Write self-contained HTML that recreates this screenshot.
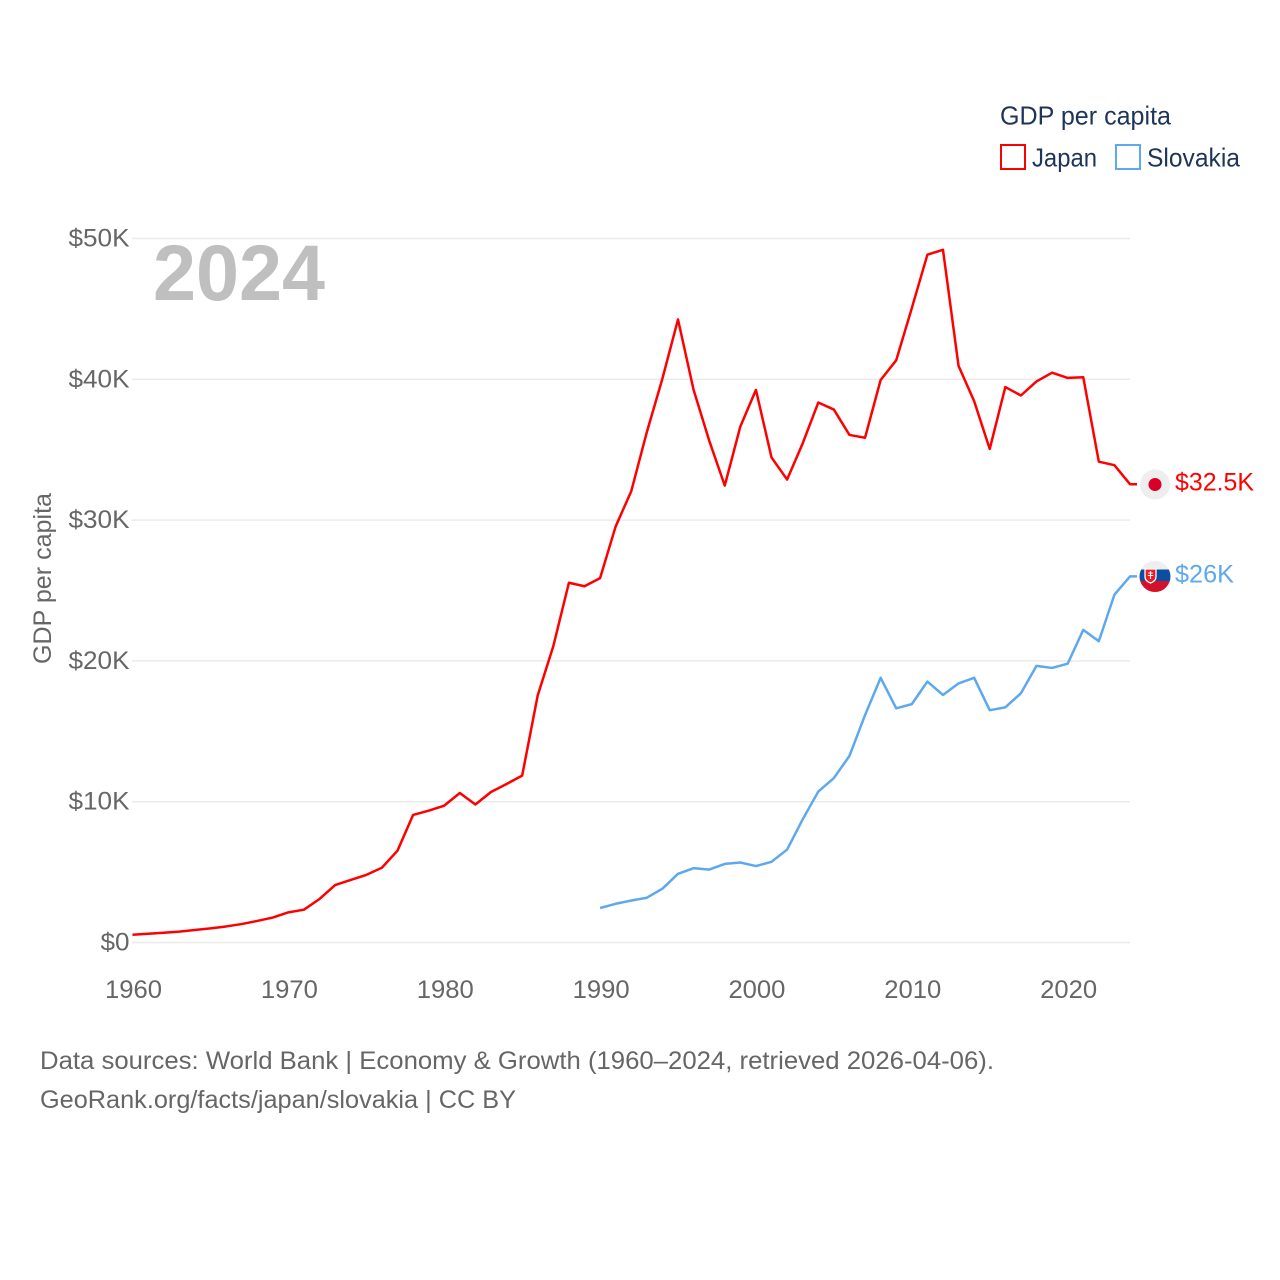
<!DOCTYPE html>
<html lang="en">
<head>
<meta charset="utf-8">
<title>GDP per capita: Japan and Slovakia</title>
<style>
html,body{margin:0;padding:0;background:#fff;width:1280px;height:1280px;overflow:hidden}
svg{display:block}
text{font-family:"Liberation Sans",sans-serif}
</style>
</head>
<body>
<svg id="chart" width="1280" height="1280" viewBox="0 0 1280 1280" xmlns="http://www.w3.org/2000/svg">
<defs>
<clipPath id="slovakia-clip"><circle cx="1155" cy="576.5" r="15.5"/></clipPath>
</defs>
<g id="grid"></g>
<g id="yticks"></g>
<g id="xticks"></g>
<text x="153" y="300" font-size="79" font-weight="700" fill="#bfbfbf" textLength="172" lengthAdjust="spacingAndGlyphs">2024</text>
<text transform="translate(51 578.5) rotate(-90)" text-anchor="middle" font-size="25" fill="#666" textLength="171" lengthAdjust="spacingAndGlyphs">GDP per capita</text>
<g id="series"></g>
<g>
<circle cx="1155" cy="484.5" r="15" fill="#eeeeee"/>
<circle cx="1155" cy="484.5" r="6.5" fill="#d80027"/>
</g>
<g clip-path="url(#slovakia-clip)">
<rect x="1139" y="561" width="32" height="32" fill="#eeeeee"/>
<rect x="1139" y="569.500" width="32" height="12" fill="#0b4ea2"/>
<rect x="1139" y="581" width="32" height="12" fill="#d4112a"/>
<path d="M1145 569h11v8q0 4-5.500 6q-5.500-2-5.500-6z" fill="#ee1c25" stroke="#fff" stroke-width="1.300"/>
<path d="M1150.500 571v8M1148.300 573h4.400M1147.800 575.500h5.400" stroke="#fff" stroke-width="1.100" fill="none"/>
</g>
<text x="1175" y="490.500" font-size="25" fill="#ff0000" textLength="79" lengthAdjust="spacingAndGlyphs">$32.5K</text>
<text x="1175" y="582.500" font-size="25" fill="#5da8ee" textLength="59" lengthAdjust="spacingAndGlyphs">$26K</text>
<g>
<text x="1000" y="124.500" font-size="26" fill="#1d3557" textLength="171" lengthAdjust="spacingAndGlyphs">GDP per capita</text>
<rect x="1001" y="145" width="24" height="24" fill="#fff" stroke="#ff0000" stroke-width="2"/>
<text x="1032" y="166.500" font-size="26" fill="#1d3557" textLength="65" lengthAdjust="spacingAndGlyphs">Japan</text>
<rect x="1116" y="145" width="24" height="24" fill="#fff" stroke="#5da8ee" stroke-width="2"/>
<text x="1147" y="166.500" font-size="26" fill="#1d3557" textLength="93" lengthAdjust="spacingAndGlyphs">Slovakia</text>
</g>
<text x="40" y="1069" font-size="25" fill="#666" textLength="954" lengthAdjust="spacingAndGlyphs">Data sources: World Bank | Economy &amp; Growth (1960–2024, retrieved 2026-04-06).</text>
<text x="40" y="1108" font-size="25" fill="#666" textLength="476" lengthAdjust="spacingAndGlyphs">GeoRank.org/facts/japan/slovakia | CC BY</text>
</svg>
<script>
const yTickValues = [0, 10, 20, 30, 40, 50];
const yTickLabels = ["$0", "$10K", "$20K", "$30K", "$40K", "$50K"];
const xTickValues = [1960, 1970, 1980, 1990, 2000, 2010, 2020];
const xTickLabels = ["1960", "1970", "1980", "1990", "2000", "2010", "2020"];
const japanStartYear = 1960;
const japanValues = [0.55, 0.62, 0.69, 0.77, 0.89, 1.0, 1.14, 1.31, 1.53, 1.77, 2.14, 2.33, 3.09, 4.08, 4.44, 4.8, 5.31, 6.52, 9.06, 9.36, 9.72, 10.62, 9.8, 10.69, 11.26, 11.85, 17.55, 21.05, 25.55, 25.3, 25.88, 29.55, 32.05, 36.25, 40.05, 44.25, 39.25, 35.65, 32.45, 36.65, 39.25, 34.45, 32.88, 35.45, 38.35, 37.85, 36.05, 35.85, 39.95, 41.35, 45.05, 48.85, 49.2, 40.95, 38.45, 35.05, 39.45, 38.85, 39.85, 40.47, 40.1, 40.15, 34.15, 33.9, 32.55];
const slovakiaStartYear = 1990;
const slovakiaValues = [2.45, 2.75, 2.98, 3.18, 3.82, 4.88, 5.28, 5.18, 5.58, 5.68, 5.43, 5.73, 6.6, 8.75, 10.72, 11.68, 13.25, 16.15, 18.8, 16.63, 16.93, 18.53, 17.58, 18.4, 18.8, 16.5, 16.7, 17.7, 19.65, 19.5, 19.8, 22.2, 21.4, 24.7, 26.0];

const NS = "http://www.w3.org/2000/svg";
const xScale = function (year) { return 132.5 + (year - 1960) * (1130 - 132.5) / 64; };
const yScale = function (v) { return 942.5 - v * (942.5 - 238.5) / 50; };
const gridGroup = document.getElementById("grid");
const yGroup = document.getElementById("yticks");
const xGroup = document.getElementById("xticks");
const seriesGroup = document.getElementById("series");

yTickValues.forEach(function (v, i) {
  const line = document.createElementNS(NS, "line");
  
  
  line.setAttribute("x1", 132);
  line.setAttribute("x2", 1130);
  line.setAttribute("y1", yScale(v));
  line.setAttribute("y2", yScale(v));
  line.setAttribute("stroke", "#ebebeb");
  line.setAttribute("stroke-width", "1.5");
  gridGroup.appendChild(line);
  const t = document.createElementNS(NS, "text");
  
  
  t.setAttribute("x", 129.5);
  t.setAttribute("y", yScale(v) + 8);
  t.setAttribute("text-anchor", "end");
  t.setAttribute("font-size", "25");
  t.setAttribute("fill", "#666");
  t.setAttribute("textLength", String(yTickLabels[i].length === 2 ? 29 : 61));
  t.setAttribute("lengthAdjust", "spacingAndGlyphs");
  t.textContent = yTickLabels[i];
  yGroup.appendChild(t);
});

xTickValues.forEach(function (year, i) {
  const t = document.createElementNS(NS, "text");
  
  
  t.setAttribute("x", xScale(year) + 1);
  t.setAttribute("y", 998);
  t.setAttribute("text-anchor", "middle");
  t.setAttribute("font-size", "25");
  t.setAttribute("fill", "#666");
  t.setAttribute("textLength", "57");
  t.setAttribute("lengthAdjust", "spacingAndGlyphs");
  t.textContent = xTickLabels[i];
  xGroup.appendChild(t);
});

function drawSeries(name, startYear, values, color) {
  const pts = values.map(function (v, i) {
    return xScale(startYear + i).toFixed(2) + "," + yScale(v).toFixed(2);
  });
  const lastY = yScale(values[values.length - 1]).toFixed(2);
  const lastX = (xScale(startYear + values.length - 1) + 7).toFixed(2);
  pts.push(lastX + "," + lastY);
  const line = document.createElementNS(NS, "polyline");
  
  
  line.setAttribute("data-series", name);
  line.setAttribute("points", pts.join(" "));
  line.setAttribute("fill", "none");
  line.setAttribute("stroke", color);
  line.setAttribute("stroke-width", "2.5");
  line.setAttribute("stroke-linejoin", "round");
  seriesGroup.appendChild(line);
}
drawSeries("japan", japanStartYear, japanValues, "#ff0000");
drawSeries("slovakia", slovakiaStartYear, slovakiaValues, "#5da8ee");
</script>
</body>
</html>
